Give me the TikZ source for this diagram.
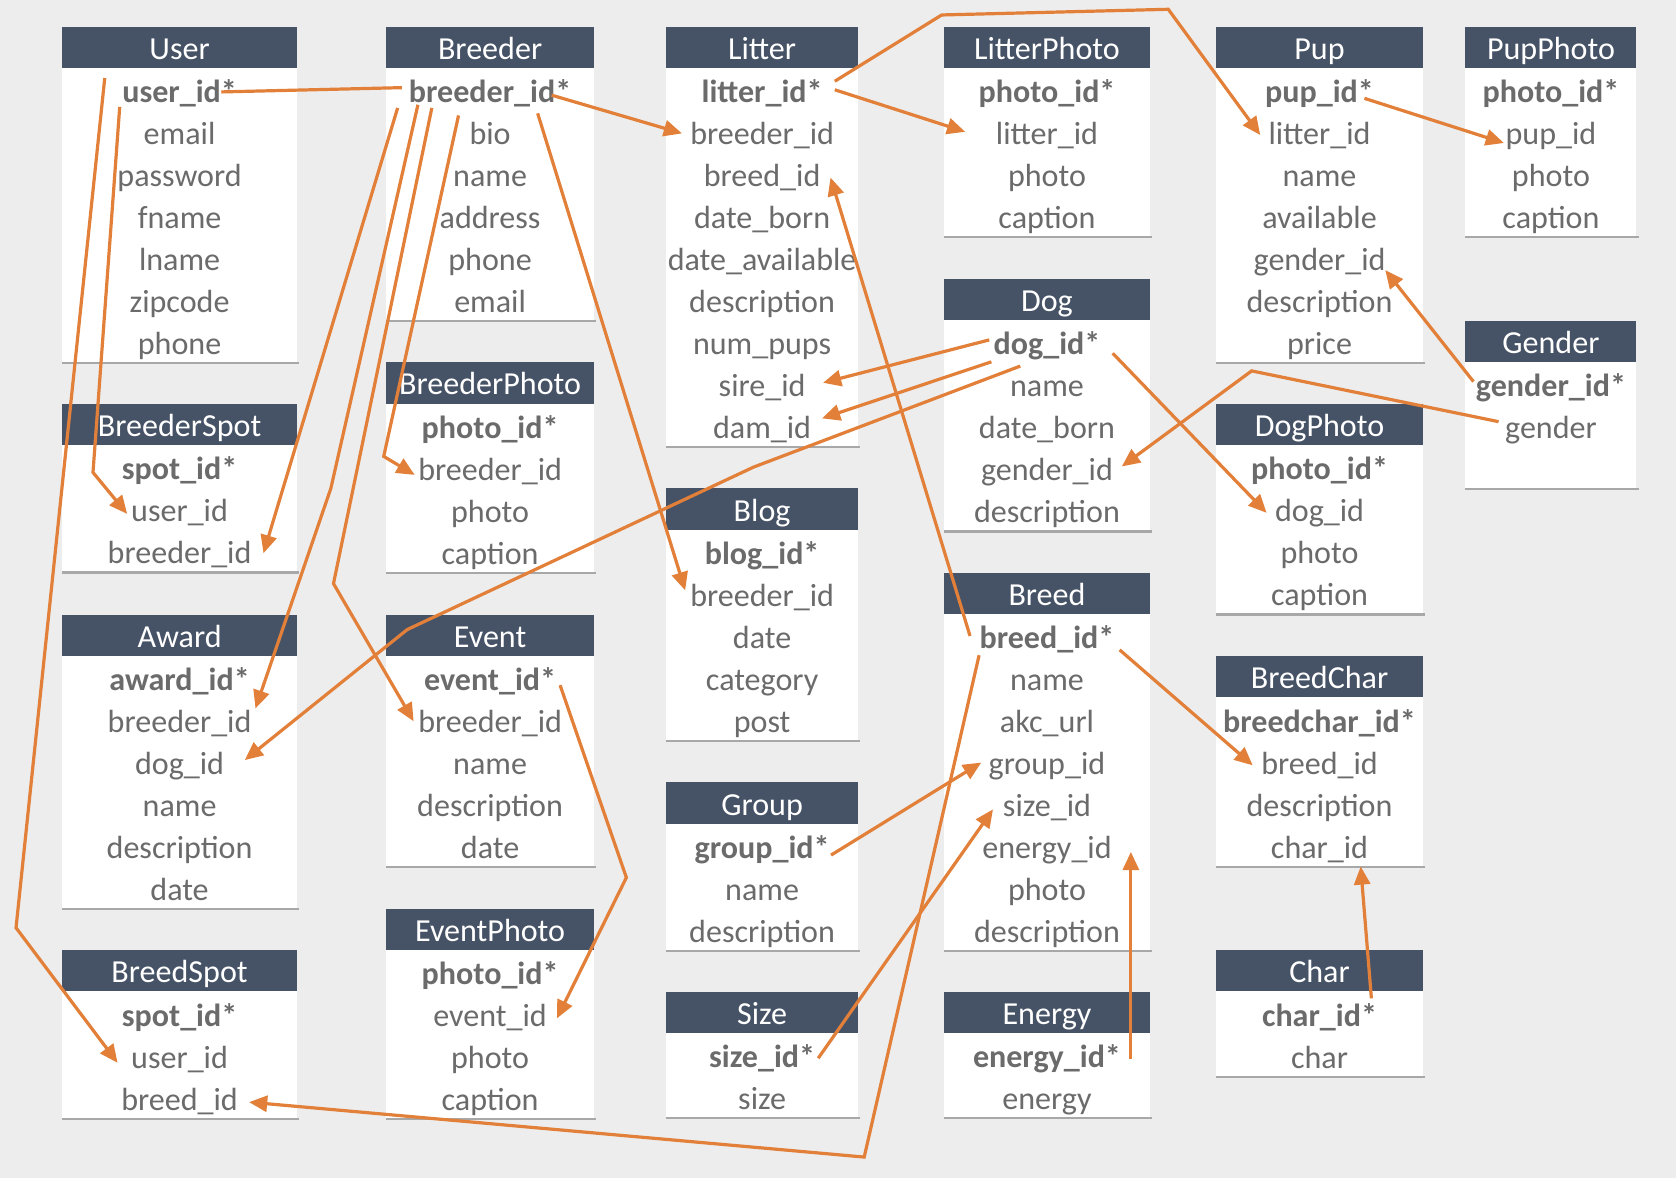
\documentclass[tikz,border=0pt]{standalone}
\usepackage{fontspec}
\setmainfont{Carlito}
\usetikzlibrary{calc,arrows.meta}
\definecolor{bgc}{HTML}{EDEDED}
\definecolor{hdr}{HTML}{465366}
\definecolor{rulec}{HTML}{A8A8A8}
\definecolor{txt}{HTML}{6B6B6B}
\definecolor{orng}{HTML}{E2803A}
\newcommand{\ertable}[7]{%
  \pgfmathsetmacro{\ertCx}{(#2+#3)/2}%
  \pgfmathsetmacro{\ertBot}{#4+61.5+39.3*(#7-1)+17.5}%
  \fill[white] (#2,#4) rectangle (#3,\ertBot);
  \fill[hdr] (#2,#4) rectangle (#3,#4+38.5);
  \draw[rulec,line width=1pt] (#2,\ertBot) -- (#3+2,\ertBot);
  \node[ttl] (#1-h) at (\ertCx,#4+20.5) {#5};
  \foreach \f [count=\i] in {#6}{%
    \pgfmathsetmacro{\ertY}{#4+61+39.3*(\i-1)}%
    \node[fld] (#1-\i) at (\ertCx,\ertY) {\f};
  }%
}
\tikzset{
  ttl/.style={text=white, font=\fontsize{15pt}{17pt}\selectfont, inner sep=0pt, text height=12pt, text depth=2pt},
  fld/.style={text=txt, font=\fontsize{15pt}{17pt}\selectfont, inner sep=0pt, text height=12pt, text depth=2pt},
  lnk/.style={draw=orng, line width=1.5pt},
  arr/.style={lnk, -{Triangle[length=8.5pt,width=7.5pt]}},
}
\begin{document}
\begin{tikzpicture}[x=0.5pt,y=-0.5pt]
\fill[bgc] (0,0) rectangle (1568,1102);
\useasboundingbox (0,0) rectangle (1568,1102);
% column 1
\ertable{user}{58}{278}{25}{User}{\textbf{user\_id*},email,password,fname,lname,zipcode,phone}{7}
\ertable{breederspot}{58}{278}{378}{BreederSpot}{\textbf{spot\_id*},user\_id,breeder\_id}{3}
\ertable{award}{58}{278}{575}{Award}{\textbf{award\_id*},breeder\_id,dog\_id,name,description,date}{6}
\ertable{breedspot}{58}{278}{889}{BreedSpot}{\textbf{spot\_id*},user\_id,breed\_id}{3}
% column 2
\ertable{breeder}{361}{556}{25}{Breeder}{\textbf{breeder\_id*},bio,name,address,phone,email}{6}
\ertable{breederphoto}{361}{556}{339}{BreederPhoto}{\textbf{photo\_id*},breeder\_id,photo,caption}{4}
\ertable{event}{361}{556}{575}{Event}{\textbf{event\_id*},breeder\_id,name,description,date}{5}
\ertable{eventphoto}{361}{556}{850}{EventPhoto}{\textbf{photo\_id*},event\_id,photo,caption}{4}
% column 3
\ertable{litter}{623}{803}{25}{Litter}{\textbf{litter\_id*},breeder\_id,breed\_id,date\_born,date\_available,description,num\_pups,sire\_id,dam\_id}{9}
\ertable{blog}{623}{803}{457}{Blog}{\textbf{blog\_id*},breeder\_id,date,category,post}{5}
\ertable{group}{623}{803}{732}{Group}{\textbf{group\_id*},name,description}{3}
\ertable{size}{623}{803}{928}{Size}{\textbf{size\_id*},size}{2}
% column 4
\ertable{litterphoto}{883}{1076}{25}{LitterPhoto}{\textbf{photo\_id*},litter\_id,photo,caption}{4}
\ertable{dog}{883}{1076}{261}{Dog}{\textbf{dog\_id*},name,date\_born,gender\_id,description}{5}
\ertable{breed}{883}{1076}{536}{Breed}{\textbf{breed\_id*},name,akc\_url,group\_id,size\_id,energy\_id,photo,description}{8}
\ertable{energy}{883}{1076}{928}{Energy}{\textbf{energy\_id*},energy}{2}
% column 5
\ertable{pup}{1138}{1331}{25}{Pup}{\textbf{pup\_id*},litter\_id,name,available,gender\_id,description,price}{7}
\ertable{dogphoto}{1138}{1331}{378}{DogPhoto}{\textbf{photo\_id*},dog\_id,photo,caption}{4}
\ertable{breedchar}{1138}{1331}{614}{BreedChar}{\textbf{breedchar\_id*},breed\_id,description,char\_id}{4}
\ertable{char}{1138}{1331}{889}{Char}{\textbf{char\_id*},char}{2}
% column 6
\ertable{pupphoto}{1371}{1531}{25}{PupPhoto}{\textbf{photo\_id*},pup\_id,photo,caption}{4}
\ertable{gender}{1371}{1531}{300}{Gender}{\textbf{gender\_id*},gender}{3}
% connectors
\draw[lnk] ($(breeder-1)+(-82.5,-4)$) -- ($(user-1)+(39,0)$);
\draw[arr] ($(user-1)+(-70,-13)$) -- (15,868) -- ($(breedspot-2)+(-58,5)$);
\draw[arr] ($(user-1)+(-56,14)$) -- (87,442) -- ($(breederspot-2)+(-49,2.5)$);
\draw[arr] ($(breeder-1)+(-86.5,15)$) -- ($(breederspot-3)+(78.5,0)$);
\draw[arr] ($(breeder-1)+(-67.5,12)$) -- (309.5,457) -- ($(award-2)+(71,-12.5)$);
\draw[arr] ($(breeder-1)+(-54.5,15)$) -- (312,546) -- ($(event-2)+(-71.5,-0.5)$);
\draw[arr] ($(breeder-1)+(-29.5,22)$) -- (359,427) -- ($(breederphoto-2)+(-70.5,5)$);
\draw[arr] ($(breeder-1)+(44.5,20)$) -- ($(blog-2)+(-72,-5)$);
\draw[arr] ($(breeder-1)+(57.5,3)$) -- ($(litter-2)+(-75,-0.5)$);
\draw[arr] ($(litter-1)+(68,-10)$) -- (881,14) -- (1093,8.7) -- ($(pup-2)+(-55.5,1)$);
\draw[arr] ($(litter-1)+(68,-2)$) -- ($(litterphoto-2)+(-76.5,-2)$);
\draw[arr] ($(pup-1)+(42,6)$) -- ($(pupphoto-2)+(-44,8.5)$);
\draw[arr] ($(gender-1)+(-72.5,-4)$) -- ($(pup-5)+(61.5,9.5)$);
\draw[arr] ($(gender-2)+(-49,-5.8)$) -- (1171,347) -- ($(dog-4)+(70,-3.5)$);
\draw[arr] ($(dog-1)+(-54,-4)$) -- ($(litter-8)+(57,-3)$);
\draw[arr] ($(dog-1)+(-52,16.5)$) -- ($(litter-9)+(56,-9)$);
\draw[arr] ($(dog-1)+(-25,20.5)$) -- (705,437) -- (381,589) -- ($(award-3)+(61,-3.5)$);
\draw[arr] ($(dog-1)+(61.5,8.5)$) -- ($(dogphoto-2)+(-49.5,1.5)$);
\draw[arr] ($(breed-1)+(-72,-2)$) -- ($(litter-3)+(64,1.5)$);
\draw[arr] ($(breed-1)+(-63.5,16)$) -- (808.5,1082.5) -- ($(breedspot-3)+(65,2.5)$);
\draw[arr] ($(breed-1)+(68,11)$) -- ($(breedchar-2)+(-62.5,1.7)$);
\draw[arr] ($(group-1)+(64.5,7)$) -- ($(breed-4)+(-61.5,-1.5)$);
\draw[arr] ($(size-1)+(52.5,1)$) -- ($(breed-5)+(-50.5,3)$);
\draw[arr] ($(energy-1)+(78.5,1.5)$) -- ($(breed-6)+(78.5,3.5)$);
\draw[arr] ($(char-1)+(48.5,-16)$) -- ($(breedchar-4)+(38.5,17.7)$);
\draw[arr] ($(event-1)+(65.5,5)$) -- (586,821) -- ($(eventphoto-2)+(62.5,2.5)$);
\end{tikzpicture}
\end{document}
